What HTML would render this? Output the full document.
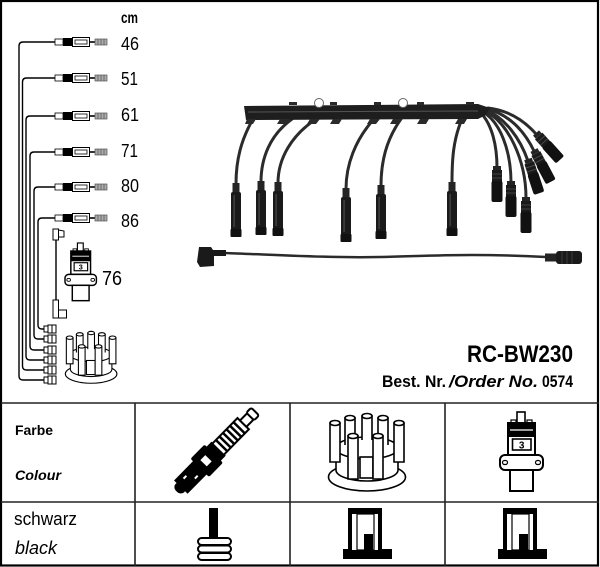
<!DOCTYPE html>
<html><head><meta charset="utf-8"><style>
html,body{margin:0;padding:0;background:#fff;}
svg{display:block;}
text{font-family:"Liberation Sans",sans-serif;fill:#000;}
</style></head><body>
<svg width="600" height="567" viewBox="0 0 600 567" xmlns="http://www.w3.org/2000/svg">
<defs>
 <g id="conn">
  <rect x="0" y="-3" width="8" height="6" fill="#fff" stroke="#000" stroke-width="0.8"/>
  <rect x="8" y="-4" width="9" height="8" fill="#000"/>
  <rect x="17.5" y="-4.5" width="17" height="9" fill="#fff" stroke="#000" stroke-width="1"/>
  <rect x="20" y="-2" width="12" height="4" fill="none" stroke="#000" stroke-width="0.8"/>
  <line x1="34.5" y1="0" x2="40" y2="0" stroke="#000" stroke-width="1.6"/>
  <rect x="40" y="-3" width="12" height="6" fill="#aaa" stroke="#555" stroke-width="0.7"/>
  <path d="M43,-3V3M46,-3V3M49,-3V3" stroke="#555" stroke-width="0.7"/>
 </g>
 <g id="bconn" fill="#fff" stroke="#000" stroke-width="1">
  <rect x="44" y="-3" width="4" height="6"/>
  <rect x="48" y="-4" width="8" height="8"/>
  <line x1="52" y1="-4" x2="52" y2="4"/>
 </g>
 <g id="lboot">
  <rect x="-3.5" y="0" width="7" height="11" fill="#242424"/>
  <rect x="-5" y="9" width="10" height="39" rx="2" fill="#1a1a1a"/>
  <rect x="-2.5" y="12" width="1.2" height="32" fill="#4a4a4a"/>
  <rect x="-5.5" y="46" width="11" height="8" rx="1" fill="#111"/>
 </g>
 <g id="sboot">
  <rect x="-4" y="0" width="8" height="4" fill="#242424"/>
  <rect x="-5" y="4" width="10" height="12" fill="#1a1a1a"/>
  <path d="M-5,8H5M-5,12H5" stroke="#505050" stroke-width="0.8"/>
  <rect x="-5.5" y="15" width="11" height="21" rx="2" fill="#111"/>
 </g>
 <g id="cap" stroke="#000" stroke-width="1.6" fill="#fff">
  <ellipse cx="367" cy="477" rx="38.5" ry="14"/>
  <path d="M336,448 L336,470 A31,11 0 0 0 398,470 L398,448 Z"/>
  <ellipse cx="367" cy="448" rx="31" ry="11"/>
  <path d="M345,445V418H355V445"/><ellipse cx="350" cy="418" rx="5" ry="2.5"/>
  <path d="M362,440V416H372V440"/><ellipse cx="367" cy="416" rx="5" ry="2.5"/>
  <path d="M378,445V418H388V445"/><ellipse cx="383" cy="418" rx="5" ry="2.5"/>
  <path d="M330,462V423H340V462Z"/><ellipse cx="335" cy="423" rx="5" ry="2.5"/>
  <path d="M394,462V423H404V462Z"/><ellipse cx="399" cy="423" rx="5" ry="2.5"/>
  <rect x="360" y="457" width="13" height="21"/>
  <path d="M348,479V436H358V479Z"/><ellipse cx="353" cy="436" rx="5" ry="2.5"/>
  <path d="M373,479V436H383V479Z"/><ellipse cx="378" cy="436" rx="5" ry="2.5"/>
 </g>
 <g id="coil">
  <rect x="517" y="412" width="8" height="11" fill="#fff" stroke="#000" stroke-width="1.6"/>
  <rect x="511" y="420" width="5" height="4" fill="#fff" stroke="#000" stroke-width="1.2"/>
  <rect x="527" y="420" width="5" height="4" fill="#fff" stroke="#000" stroke-width="1.2"/>
  <rect x="508" y="423" width="27" height="32" fill="#fff" stroke="#000" stroke-width="2"/>
  <rect x="508" y="423" width="27" height="14" fill="#000"/>
  <line x1="510" y1="430" x2="533" y2="430" stroke="#fff" stroke-width="1.2"/>
  <rect x="512.5" y="439" width="18.5" height="11" fill="#fff" stroke="#000" stroke-width="1.6"/>
  <text x="521.7" y="448.5" font-size="10" font-weight="bold" text-anchor="middle">3</text>
  <rect x="500" y="455" width="43" height="15" rx="5" fill="#fff" stroke="#000" stroke-width="2"/>
  <rect x="502.5" y="460.5" width="5" height="4" rx="2" fill="#fff" stroke="#000" stroke-width="1.2"/>
  <rect x="535.5" y="460.5" width="5" height="4" rx="2" fill="#fff" stroke="#000" stroke-width="1.2"/>
  <rect x="510" y="470" width="23" height="21" fill="#fff" stroke="#000" stroke-width="2"/>
 </g>
 <g id="term">
  <rect x="0" y="41" width="49" height="10" fill="#000"/>
  <rect x="5" y="0" width="34" height="41" fill="#000"/>
  <rect x="9" y="6" width="26" height="36" fill="#fff"/>
  <rect x="14" y="6" width="17" height="36" fill="none" stroke="#000" stroke-width="1.2"/>
  <rect x="21" y="26" width="9" height="17" fill="#000"/>
 </g>
</defs>

<!-- outer border -->
<rect x="1" y="1" width="597" height="564.5" fill="none" stroke="#000" stroke-width="2.2"/>

<!-- left schematic wires -->
<g fill="none" stroke="#000" stroke-width="1.4">
 <path d="M55,42 H23 Q19,42 19,46 V376 Q19,380 23,380 H44"/>
 <path d="M55,78 H26.5 Q22.5,78 22.5,82 V366 Q22.5,370 26.5,370 H44"/>
 <path d="M55,116 H30 Q26,116 26,120 V356 Q26,360 30,360 H44"/>
 <path d="M55,152 H34 Q30,152 30,156 V346 Q30,350 34,350 H44"/>
 <path d="M55,187 H38 Q34,187 34,191 V335 Q34,339 38,339 H44"/>
 <path d="M55,218 H42 Q38,218 38,222 V325 Q38,329 42,329 H44"/>
</g>
<use href="#conn" x="55" y="42"/>
<use href="#conn" x="55" y="78"/>
<use href="#conn" x="55" y="116"/>
<use href="#conn" x="55" y="152"/>
<use href="#conn" x="55" y="187"/>
<use href="#conn" x="55" y="218"/>
<use href="#bconn" x="0" y="329"/>
<use href="#bconn" x="0" y="339"/>
<use href="#bconn" x="0" y="350"/>
<use href="#bconn" x="0" y="360"/>
<use href="#bconn" x="0" y="370"/>
<use href="#bconn" x="0" y="380"/>

<text x="121" y="23" font-size="16" font-weight="bold" textLength="17" lengthAdjust="spacingAndGlyphs">cm</text>
<g font-size="18.5">
 <text x="121" y="50" textLength="18" lengthAdjust="spacingAndGlyphs">46</text>
 <text x="121" y="85" textLength="17" lengthAdjust="spacingAndGlyphs">51</text>
 <text x="121" y="121" textLength="18" lengthAdjust="spacingAndGlyphs">61</text>
 <text x="121" y="157" textLength="17" lengthAdjust="spacingAndGlyphs">71</text>
 <text x="121" y="192" textLength="18" lengthAdjust="spacingAndGlyphs">80</text>
 <text x="121" y="227" textLength="18" lengthAdjust="spacingAndGlyphs">86</text>
</g>
<text x="102" y="285" font-size="20.5" textLength="20" lengthAdjust="spacingAndGlyphs">76</text>

<!-- coil wire -->
<line x1="56" y1="238" x2="56" y2="302" stroke="#000" stroke-width="1.4"/>
<g fill="#fff" stroke="#000" stroke-width="1">
 <rect x="53" y="229" width="5.5" height="11"/>
 <polygon points="58.5,230 64,231 64,237 58.5,237"/>
 <rect x="53" y="300" width="5.5" height="18"/>
 <rect x="58.5" y="310" width="8" height="8"/>
</g>
<use href="#coil" transform="translate(65,243) scale(0.73) translate(-500,-412)"/>
<use href="#cap" transform="translate(65,331) scale(0.67) translate(-328,-413)"/>

<!-- harness -->
<g fill="none" stroke="#2b2b2b" stroke-width="3" stroke-linecap="round">
 <path d="M253,119 C241,140 236,160 236,184"/>
 <path d="M292,119 C270,135 261,158 261,182"/>
 <path d="M316,119 C292,135 278,158 278,183"/>
 <path d="M374,119 C355,140 346,165 346,189"/>
 <path d="M401,119 C386,140 381,162 381,186"/>
 <path d="M462,119 C453,140 452,160 452,183"/>
 <path d="M481,113 C492,125 497,145 497,168"/>
 <path d="M483,112 C500,122 511,150 511,183"/>
 <path d="M485,111 C508,122 526,160 526,198"/>
 <path d="M486,110 C505,118 520,138 528,161"/>
 <path d="M487,109 C508,114 524,130 534,151"/>
 <path d="M488,108 C505,110 522,118 536,134"/>
</g>
<g stroke="#2b2b2b" stroke-width="2.5" fill="none">
 <path d="M224,253 C280,255 330,258 380,257 S470,253 546,257"/>
</g>
<!-- rail -->
<path d="M244,106 L478,104 L490,108 L486,115 L478,119 L246,120 Z" fill="#1e1e1e"/>
<line x1="248" y1="112" x2="478" y2="111" stroke="#555" stroke-width="1"/>
<g fill="#2a2a2a">
 <rect x="289" y="102" width="8" height="3"/>
 <rect x="330" y="102" width="7" height="3"/>
 <rect x="374" y="102" width="7" height="3"/>
 <rect x="417" y="102" width="7" height="3"/>
 <rect x="466" y="102" width="8" height="3"/>
 <polygon points="247,119 256,119 253,124 245,124"/>
 <polygon points="280,119 290,119 286,124 277,124"/>
 <polygon points="310,119 320,119 316,124 307,124"/>
 <polygon points="333,119 342,119 339,124 330,124"/>
 <polygon points="370,119 380,119 376,124 367,124"/>
 <polygon points="393,119 402,119 399,124 390,124"/>
 <polygon points="420,119 429,119 426,124 417,124"/>
 <polygon points="458,119 467,119 464,124 455,124"/>
</g>
<circle cx="319" cy="103" r="4.5" fill="#fff" stroke="#666" stroke-width="1"/>
<circle cx="403" cy="103" r="4.5" fill="#fff" stroke="#666" stroke-width="1"/>

<use href="#lboot" x="236" y="183"/>
<use href="#lboot" x="261" y="181"/>
<use href="#lboot" x="278" y="182"/>
<use href="#lboot" x="346" y="188"/>
<use href="#lboot" x="381" y="185"/>
<use href="#lboot" x="452" y="182"/>
<use href="#sboot" x="497" y="166"/>
<use href="#sboot" x="511" y="181"/>
<use href="#sboot" x="526" y="197"/>
<use href="#sboot" transform="translate(528,159) rotate(-18)"/>
<use href="#sboot" transform="translate(534,150) rotate(-28)"/>
<use href="#sboot" transform="translate(536,133) rotate(-42)"/>

<!-- coil cable boots -->
<polygon points="199,247 211,247 213,250 226,250 226,256 214,256 214,266 200,267 197,262" fill="#1a1a1a"/>
<rect x="545" y="253.5" width="12" height="8" fill="#242424"/>
<rect x="556" y="251" width="26" height="13" rx="3" fill="#1a1a1a"/>
<path d="M562,251V264M567,251V264M572,251V264" stroke="#444" stroke-width="0.8"/>

<!-- titles -->
<text x="467" y="362" font-size="24" font-weight="bold" textLength="106" lengthAdjust="spacingAndGlyphs">RC-BW230</text>
<text x="382" y="387" font-size="17" font-weight="bold" textLength="64" lengthAdjust="spacingAndGlyphs">Best. Nr.</text>
<text x="449" y="387" font-size="17" font-weight="bold" font-style="italic" textLength="89" lengthAdjust="spacingAndGlyphs">/Order No.</text>
<text x="542" y="387" font-size="17" font-weight="bold" textLength="31" lengthAdjust="spacingAndGlyphs">0574</text>

<!-- table -->
<g stroke="#222" stroke-width="1.6">
 <line x1="1" y1="403" x2="599" y2="403"/>
 <line x1="1" y1="502" x2="599" y2="502"/>
 <line x1="135" y1="403" x2="135" y2="566"/>
 <line x1="290" y1="403" x2="290" y2="566"/>
 <line x1="445" y1="403" x2="445" y2="566"/>
</g>
<text x="15" y="435" font-size="14" font-weight="bold" textLength="38" lengthAdjust="spacingAndGlyphs">Farbe</text>
<text x="15" y="480" font-size="14" font-weight="bold" font-style="italic" textLength="46" lengthAdjust="spacingAndGlyphs">Colour</text>
<text x="14" y="525" font-size="18" textLength="63" lengthAdjust="spacingAndGlyphs">schwarz</text>
<text x="15" y="554" font-size="18" font-style="italic" textLength="42" lengthAdjust="spacingAndGlyphs">black</text>

<!-- spark plug -->
<g transform="translate(178,490) rotate(-45.5)">
 <rect x="-2" y="-6" width="10" height="12" rx="5" fill="#000"/>
 <rect x="4" y="-9.5" width="28" height="19" fill="#000"/>
 <rect x="12" y="-5" width="4" height="2" fill="#fff"/>
 <rect x="20" y="3" width="4" height="2" fill="#fff"/>
 <rect x="31" y="-13" width="20" height="26" rx="2" fill="#000"/>
 <rect x="37" y="-5" width="7" height="9" fill="#fff"/>
 <rect x="50" y="-10" width="8" height="20" fill="#000"/>
 <rect x="57" y="-8" width="36" height="16" fill="#fff" stroke="#000" stroke-width="2"/>
 <g fill="#000">
  <rect x="61" y="-8" width="2.5" height="16"/>
  <rect x="66" y="-8" width="2.5" height="16"/>
  <rect x="71" y="-8" width="2.5" height="16"/>
  <rect x="76" y="-8" width="2.5" height="16"/>
  <rect x="81" y="-8" width="2.5" height="16"/>
  <rect x="86" y="-8" width="2.5" height="16"/>
 </g>
 <rect x="93" y="-4.5" width="11" height="9" fill="#fff" stroke="#000" stroke-width="2"/>
 <rect x="103" y="-5.5" width="7" height="11" rx="2" fill="#fff" stroke="#000" stroke-width="2"/>
</g>

<use href="#cap"/>
<use href="#coil"/>

<!-- bottom row icons -->
<rect x="209" y="508" width="9" height="30" fill="#000"/>
<g fill="#fff" stroke="#000" stroke-width="2">
 <rect x="198" y="538" width="33" height="7" rx="3.5"/>
 <rect x="198" y="545.5" width="33" height="7" rx="3.5"/>
 <rect x="198" y="553" width="33" height="7" rx="3.5"/>
</g>
<use href="#term" x="343" y="508"/>
<use href="#term" x="498" y="508"/>
</svg>
</body></html>
